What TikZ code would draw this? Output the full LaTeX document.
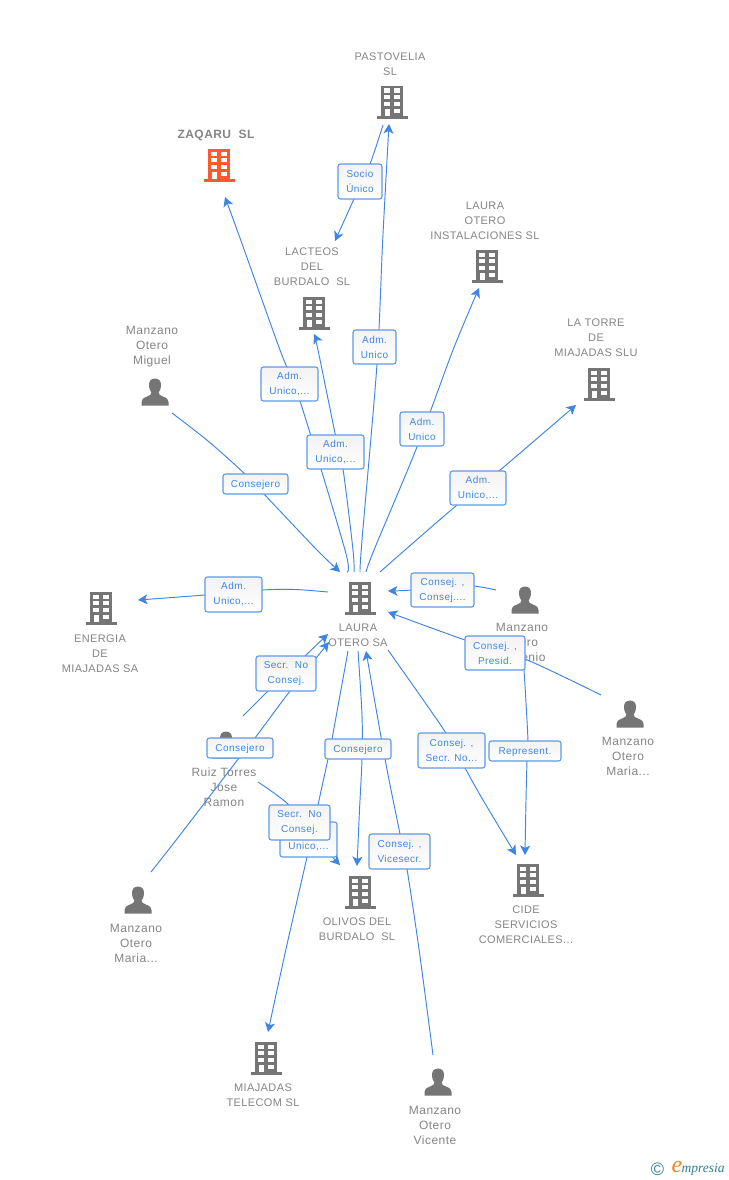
\documentclass[tikz,border=0pt]{standalone}
\usepackage{fontspec}
\setmainfont{Liberation Sans}
\newfontfamily\cofont[LetterSpace=3.5]{Liberation Sans}
\newfontfamily\pefont[LetterSpace=4]{Liberation Sans}
\newfontfamily\labfont[LetterSpace=4.5]{Liberation Sans}
\newfontfamily\logofont{Liberation Serif}
\usetikzlibrary{arrows.meta}
\definecolor{icongray}{HTML}{757575}
\definecolor{iconred}{HTML}{FF5A2B}
\definecolor{txtgray}{HTML}{858585}
\definecolor{linkblue}{HTML}{3F86E3}
\definecolor{boxblue}{HTML}{5F9AE8}
\definecolor{logoteal}{HTML}{2F7F96}
\definecolor{logoorange}{HTML}{F0861E}
\pgfdeclarelayer{base}\pgfdeclarelayer{edges}
\pgfsetlayers{base,edges,main}
\tikzset{
  pics/bldg/.style={code={
    \fill[#1] (-11.3,-16.3) rectangle (11.3,14.4);
    \fill[#1] (-15.5,14.2) rectangle (15.5,16.7);
    \foreach \yy in {-13.5,-6.9,-0.3,6.7}{
      \fill[white] (2,\yy) rectangle ++(6,4.2);}
    \foreach \yy in {-13.5,-6.9,-0.3}{
      \fill[white] (-8,\yy) rectangle ++(6,4.2);}
    \fill[white] (-6.7,6.7) rectangle (-2,14.2);
  }},
  pics/pers/.style={code={
    \fill[icongray] (0,-13.5) .. controls (-4.6,-13.5) and (-6.2,-10) .. (-6,-6.5)
      .. controls (-5.8,-3) and (-4.6,-1) .. (-3.6,0.5) .. controls (-3.6,2.5) and (-5,3.5) .. (-8,4.6)
      .. controls (-12,6) and (-13.5,7.5) .. (-13.5,10) -- (-13.5,13.5) -- (13.5,13.5) -- (13.5,10)
      .. controls (13.5,7.5) and (12,6) .. (8,4.6) .. controls (5,3.5) and (3.6,2.5) .. (3.6,0.5)
      .. controls (4.6,-1) and (5.8,-3) .. (6,-6.5) .. controls (6.2,-10) and (4.6,-13.5) .. (0,-13.5) -- cycle;
  }},
  co/.style={text=txtgray,align=center,inner sep=0pt,yshift=-1pt,font=\fontsize{11}{15}\cofont},
  pe/.style={text=txtgray,align=center,inner sep=0pt,yshift=-2pt,font=\fontsize{12}{15}\pefont},
  lab/.style={draw=boxblue,line width=1.1pt,rounded corners=2.5pt,top color=black!5,bottom color=white,
    text=linkblue,align=center,inner sep=0pt,font=\fontsize{10}{15}\labfont,
    execute at begin node={\rule{0pt}{10pt}}},
  link/.style={draw=linkblue,line width=.95pt},
  tip/.style={-{Stealth[length=9.5pt,width=10pt,inset=2.5pt]}},
  sm/.style={smooth,tension=.5},
}
\begin{document}
\begin{tikzpicture}[x=1pt,y=-1pt]
\useasboundingbox (0,0) rectangle (728,1180);
% end points of connectors
\coordinate (hubA) at (347,572);
\coordinate (hubB) at (354,572);
\coordinate (hubC) at (360,572);
\coordinate (hubD) at (366,572);
\coordinate (hubE) at (380,572);
\coordinate (hubF) at (340,572);
\coordinate (hubG) at (328,592);
\coordinate (hubH) at (388,591);
\coordinate (hubI) at (388,612);
\coordinate (hubJ) at (388,650);
\coordinate (hubK) at (328,634);
\coordinate (hubL) at (329,642);
\coordinate (hubM) at (348,651);
\coordinate (hubN) at (358,651);
\coordinate (hubO) at (366,651);
\coordinate (zaqaruIn) at (225,197);
\coordinate (lacteosIn) at (314,334);
\coordinate (pastoIn) at (389,124);
\coordinate (pastoOut) at (383,125);
\coordinate (lacteosTop) at (335,241);
\coordinate (instIn) at (479,288);
\coordinate (torreIn) at (576,405);
\coordinate (miguelOut) at (172,413);
\coordinate (energiaIn) at (138,600);
\coordinate (eugenioOut) at (496,590);
\coordinate (eugenioDown) at (522,655);
\coordinate (mariaROut) at (601,695);
\coordinate (cideInA) at (516,855);
\coordinate (cideInB) at (525,855);
\coordinate (ruizOut) at (243,716);
\coordinate (ruizDown) at (258,782);
\coordinate (mariaBOut) at (151,872);
\coordinate (telecomIn) at (268,1032);
\coordinate (olivosInA) at (357,866);
\coordinate (olivosInB) at (340,865);
\coordinate (vicenteOut) at (433,1055);

\begin{pgfonlayer}{base}
\fill[white] (0,0) rectangle (728,1180);
\pic at (392,102) {bldg=icongray};
\pic at (219,165) {bldg=iconred};
\pic at (314,313) {bldg=icongray};
\pic at (487,266) {bldg=icongray};
\pic at (599,384) {bldg=icongray};
\pic at (101,608) {bldg=icongray};
\pic at (360,598) {bldg=icongray};
\pic at (528,880) {bldg=icongray};
\pic at (360,892) {bldg=icongray};
\pic at (266,1058) {bldg=icongray};
\pic at (155,392) {pers};
\pic at (525,600) {pers};
\pic at (630,714) {pers};
\pic at (226,745) {pers};
\pic at (138,900) {pers};
\pic at (438,1082) {pers};
\node[co] (tPasto) at (390,63.5) {PASTOVELIA\\SL};
\node[co,font=\fontsize{12}{15}\cofont\bfseries] (tZaq) at (216,134) {ZAQARU\ \ SL};
\node[co] (tLact) at (312,266) {LACTEOS\\DEL\\BURDALO\ \ SL};
\node[co] (tInst) at (485,220) {LAURA\\OTERO\\INSTALACIONES SL};
\node[co] (tTorre) at (596,337) {LA TORRE\\DE\\MIAJADAS SLU};
\node[co] (tEner) at (100,653) {ENERGIA\\DE\\MIAJADAS SA};
\node[co] (tLaura) at (358,634.5) {LAURA\\OTERO SA};
\node[co] (tOliv) at (357,928.5) {OLIVOS DEL\\BURDALO\ \ SL};
\node[co] (tCide) at (526,924) {CIDE\\SERVICIOS\\COMERCIALES...};
\node[co] (tMiaj) at (263,1094.5) {MIAJADAS\\TELECOM SL};
\node[pe] (tMig) at (152,345) {Manzano\\Otero\\Miguel};
\node[pe] (tEug) at (522,642) {Manzano\\Otero\\Eugenio};
\node[pe] (tMarR) at (628,754) {Manzano\\Otero\\Maria...};
\node[pe] (tRuiz) at (224,785) {Ruiz Torres\\Jose\\Ramon};
\node[pe] (tMarB) at (136,941) {Manzano\\Otero\\Maria...};
\node[pe] (tVic) at (435,1123) {Manzano\\Otero\\Vicente};
\end{pgfonlayer}

% link labels
\node[lab,minimum width=44,minimum height=35] (lSocio) at (360,181.5) {Socio\\Único};
\node[lab,minimum width=57,minimum height=34] (lZaq) at (289.5,384) {Adm.\\Unico,...};
\node[lab,minimum width=57,minimum height=34] (lLact) at (335.5,452) {Adm.\\Unico,...};
\node[lab,minimum width=43,minimum height=34] (lPasto) at (374.5,347) {Adm.\\Unico};
\node[lab,minimum width=44,minimum height=34] (lInst) at (422,429) {Adm.\\Unico};
\node[lab,minimum width=56,minimum height=34] (lTorre) at (478,488) {Adm.\\Unico,...};
\node[lab,minimum width=65,minimum height=20] (lMig) at (255.5,484) {Consejero};
\node[lab,minimum width=57,minimum height=35] (lEner) at (233.5,594.5) {Adm.\\Unico,...};
\node[lab,minimum width=63,minimum height=34] (lEug) at (442.5,590) {Consej. ,\\Consej....};
\node[lab,minimum width=60,minimum height=34] (lMarR) at (495,653) {Consej. ,\\Presid.};
\node[lab,minimum width=60,minimum height=35] (lRuiz) at (286,673.5) {Secr.\ \ No\\Consej.};
\node[lab,minimum width=66,minimum height=20] (lMarB) at (240,748) {Consejero};
\node[lab,minimum width=66,minimum height=20] (lOliv) at (358,749) {Consejero};
\node[lab,minimum width=67,minimum height=35] (lCide) at (451.5,750.5) {Consej. ,\\Secr. No...};
\node[lab,minimum width=72,minimum height=20] (lRep) at (525,751) {Represent.};
\node[lab,minimum width=57,minimum height=35] (lTel) at (308.5,839.5) {Adm.\\Unico,...};
\node[lab,minimum width=61,minimum height=35] (lRuizB) at (299.5,822.5) {Secr.\ \ No\\Consej.};
\node[lab,minimum width=61,minimum height=35] (lVic) at (399.5,851.5) {Consej. ,\\Vicesecr.};

\begin{pgfonlayer}{edges}
\draw[link,tip] plot[sm] coordinates {(hubA) (345,550) (300,401) (280,350) (240.7,240) (zaqaruIn)};
\draw[link,tip] plot[sm] coordinates {(hubB) (353,550) (343,469) (335,433) (318,350) (lacteosIn)};
\draw[link,tip] plot[sm] coordinates {(hubC) (362,540) (377,364) (382.7,240) (pastoIn)};
\draw[link,tip] plot[sm] coordinates {(hubD) (374,550) (417,447) (453,350) (instIn)};
\draw[link,tip] plot[sm] coordinates {(hubE) (405,550) (457,505) (499,471) (torreIn)};
\draw[link,tip] plot[sm] coordinates {(miguelOut) (208,441) (245,474) (263,493) (317,550) (hubF)};
\draw[link,tip] plot[sm] coordinates {(hubG) (295,589.5) (262,590) (205,595) (energiaIn)};
\draw[link,tip] plot[sm] coordinates {(eugenioOut) (474,586) (442,585) (411,590) (hubH)};
\draw[link,tip] plot[sm] coordinates {(mariaROut) (525,659) (465,640) (hubI)};
\draw[link,tip] plot[sm] coordinates {(hubJ) (446,733) (465,768) (483,800) (cideInA)};
\draw[link,tip] plot[sm] coordinates {(eugenioDown) (524,670) (528,741) (527,761) (526,800) (cideInB)};
\draw[link,tip] (ruizOut) -- (268,691) -- (305,656) -- (hubK);
\draw[link,tip] plot[sm] coordinates {(mariaBOut) (180,835) (239,758) (255,738) (290,691) (hubL)};
\draw[link,tip] plot[sm] coordinates {(hubM) (332,739) (328,759) (318,805) (307,857) (286,949) (telecomIn)};
\draw[link,tip] plot[sm] coordinates {(hubN) (362,715) (362,759) (359.5,810) (olivosInA)};
\draw[link,tip] plot[sm] coordinates {(vicenteOut) (419,949) (407,869) (400,834) (385,759) (hubO)};
\draw[link,tip] plot[sm] coordinates {(ruizDown) (289,805) (317,840) (olivosInB)};
\draw[link,tip] plot[sm] coordinates {(pastoOut) (370,164) (354,199) (lacteosTop)};
\end{pgfonlayer}

% logo
\node[text=logoteal,inner sep=0pt,font=\fontsize{18}{18}\selectfont] (logoC) at (657.5,1169) {©};
\node[text=logoorange,inner sep=0pt,font=\fontsize{24}{24}\logofont\itshape] (logoE) at (677,1166.5) {e};
\node[text=logoteal,inner sep=0pt,anchor=west,font=\fontsize{13.5}{14}\logofont\itshape] (logoT) at (681.5,1169.5) {mpresia};
\end{tikzpicture}
\end{document}
